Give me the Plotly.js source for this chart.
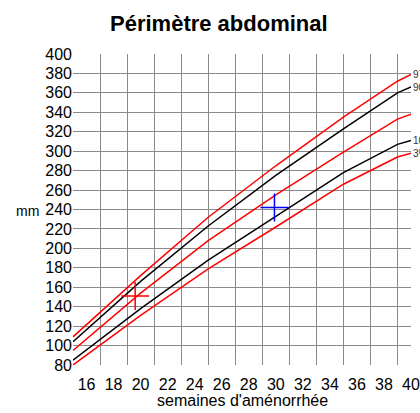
<!DOCTYPE html>
<html>
<head>
<meta charset="utf-8">
<script src="https://cdn.plot.ly/plotly-3.0.1.min.js"></script>
<style>html,body{margin:0;padding:0;background:#fff;}#chart{width:420px;height:413px;}</style>
</head>
<body>
<div id="chart"></div>
<script>
// Weeks of amenorrhea
var weeks = [15, 20, 25, 30, 35, 39, 40];
// Percentile curves (mm)
var p97 = [109, 172, 232, 285, 335, 372, 379];
var p90 = [104, 166, 223, 275, 323, 360, 366];
var p50 = [95, 154, 208, 255, 299, 333, 338];
var p10 = [85, 138, 188, 233, 278, 307, 311];
var p3  = [80, 131, 179, 222, 266, 294, 298];
// Measurements
var redPoint = {x: [19.6], y: [151]};
var bluePoint = {x: [29.9], y: [242]};
// Ticks
var xGridVals = [15, 17, 19, 21, 23, 25, 27, 29, 31, 33, 35, 37, 39];
var xLabelVals = [16, 18, 20, 22, 24, 26, 28, 30, 32, 34, 36, 38, 40];
var yTickVals = [80, 100, 120, 140, 160, 180, 200, 220, 240, 260, 280, 300, 320, 340, 360, 380, 400];
var curveLabels = ['97%', '90%', '10%', '3%'];

var FONT = 'Liberation Sans, Arial, sans-serif';
function curve(y, color) {
  return {x: weeks, y: y, type: 'scatter', mode: 'lines', line: {color: color, width: 1.5}, hoverinfo: 'skip', showlegend: false};
}
function cross(p, color) {
  return {x: p.x, y: p.y, type: 'scatter', mode: 'markers', marker: {symbol: 'cross-thin-open', size: 20, color: color, line: {color: color, width: 1.5}}, hoverinfo: 'skip', showlegend: false};
}
var traces = [
  curve(p97, '#ff0000'),
  curve(p90, '#000000'),
  curve(p50, '#ff0000'),
  curve(p10, '#000000'),
  curve(p3, '#ff0000'),
  cross(redPoint, '#ff0000'),
  cross(bluePoint, '#0000ff'),
  {x: [15], y: [80], xaxis: 'x2', type: 'scatter', mode: 'markers', marker: {opacity: 0}, showlegend: false, hoverinfo: 'skip'}
];
var ends = [p97[p97.length-1], p90[p90.length-1], p10[p10.length-1], p3[p3.length-1]];
var annotations = [
  {text: '<b>Périmètre abdominal</b>', xref: 'paper', yref: 'paper', x: (219-73)/338, y: (365-23)/311, xanchor: 'center', yanchor: 'middle', showarrow: false, font: {family: FONT, size: 22, color: '#000'}},
  {text: 'semaines d\'aménorrhée', xref: 'paper', yref: 'paper', x: 0.5, y: -(400-365)/311, xanchor: 'center', yanchor: 'middle', showarrow: false, font: {family: FONT, size: 16, color: '#000'}},
  {text: 'mm', xref: 'paper', yref: 'y', x: -(73-28)/338, y: 238, xanchor: 'center', yanchor: 'middle', showarrow: false, font: {family: FONT, size: 14, color: '#000'}}
];
for (var i = 0; i < curveLabels.length; i++) {
  annotations.push({text: curveLabels[i], xref: 'x', yref: 'y', x: 40, y: ends[i], xanchor: 'left', yanchor: 'middle', showarrow: false, font: {family: FONT, size: 10, color: '#333'}});
}
var layout = {
  width: 420, height: 413,
  margin: {l: 73, r: 9, t: 54, b: 48, pad: 0},
  paper_bgcolor: '#fff', plot_bgcolor: '#fff',
  showlegend: false,
  xaxis: {range: [15, 40], tickmode: 'array', tickvals: xGridVals, showticklabels: false, showgrid: true, gridcolor: '#8a8a8a', gridwidth: 1, zeroline: false, showline: false, ticks: '', fixedrange: true},
  xaxis2: {overlaying: 'x', anchor: 'y', side: 'bottom', range: [15, 40], tickmode: 'array', tickvals: xLabelVals, ticktext: xLabelVals.map(String), showgrid: false, zeroline: false, showline: false, ticks: 'outside', ticklen: 5, tickcolor: 'rgba(0,0,0,0)', tickfont: {family: FONT, size: 16, color: '#000'}},
  yaxis: {range: [80, 400], tickmode: 'array', tickvals: yTickVals, ticktext: yTickVals.map(String), showgrid: true, gridcolor: '#8a8a8a', gridwidth: 1, zeroline: false, showline: false, ticks: '', tickfont: {family: FONT, size: 16, color: '#000'}},
  annotations: annotations
};
Plotly.newPlot('chart', traces, layout, {displayModeBar: false, staticPlot: true});
</script>
</body>
</html>
